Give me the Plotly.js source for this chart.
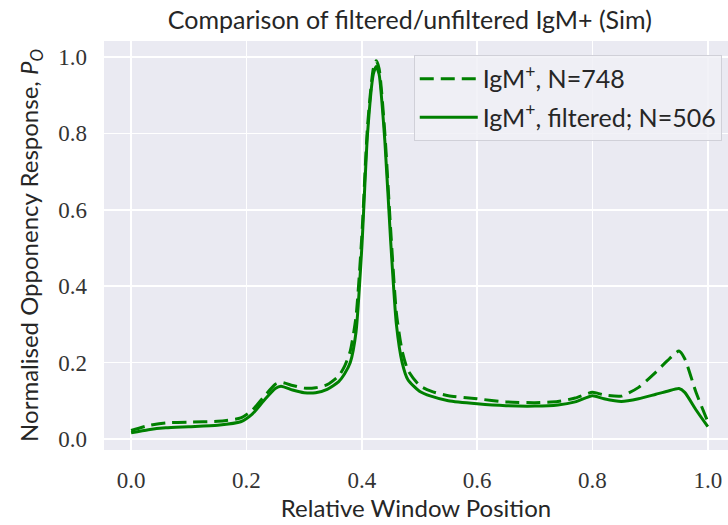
<!DOCTYPE html>
<html>
<head>
<meta charset="utf-8">
<script src="https://cdn.plot.ly/plotly-3.0.1.min.js"></script>
<style>html,body{margin:0;padding:0;background:#fff;}#chart{width:728px;height:525px;}</style>
</head>
<body>
<div id="chart"></div>
<script>
const xPos = [0, 0.03, 0.06, 0.1, 0.15, 0.19, 0.21, 0.23, 0.25, 0.26, 0.28, 0.30, 0.32, 0.34, 0.36, 0.37, 0.38, 0.39, 0.40, 0.41, 0.42, 0.425, 0.43, 0.44, 0.45, 0.46, 0.47, 0.48, 0.50, 0.52, 0.55, 0.60, 0.65, 0.70, 0.74, 0.77, 0.80, 0.82, 0.85, 0.88, 0.91, 0.93, 0.95, 0.96, 0.98, 1.0];
const unfiltered = [0.022, 0.035, 0.042, 0.044, 0.046, 0.055, 0.075, 0.11, 0.143, 0.148, 0.140, 0.133, 0.134, 0.142, 0.165, 0.19, 0.23, 0.32, 0.53, 0.82, 0.97, 0.99, 0.97, 0.80, 0.55, 0.33, 0.23, 0.18, 0.14, 0.125, 0.113, 0.105, 0.097, 0.095, 0.098, 0.107, 0.122, 0.115, 0.112, 0.135, 0.175, 0.205, 0.23, 0.21, 0.12, 0.045];
const filtered = [0.016, 0.024, 0.029, 0.032, 0.036, 0.045, 0.065, 0.10, 0.132, 0.138, 0.128, 0.121, 0.121, 0.130, 0.150, 0.170, 0.20, 0.28, 0.50, 0.80, 0.955, 0.975, 0.955, 0.78, 0.52, 0.30, 0.20, 0.155, 0.125, 0.112, 0.100, 0.092, 0.087, 0.086, 0.089, 0.097, 0.113, 0.105, 0.098, 0.105, 0.117, 0.125, 0.132, 0.122, 0.075, 0.032];
const seriesNames = ["IgM<sup>+</sup>, N=748", "IgM<sup>+</sup>, filtered; N=506"];
const tickVals = [0, 0.2, 0.4, 0.6, 0.8, 1.0];
const tickText = ["0.0", "0.2", "0.4", "0.6", "0.8", "1.0"];

const sans = "Lato, 'DejaVu Sans', sans-serif";
const serif = "'Liberation Serif', 'DejaVu Serif', serif";

const traces = [
  {x: xPos, y: unfiltered, type: 'scatter', mode: 'lines', name: seriesNames[0], legendgroup: 'a',
   line: {color: '#008000', width: 3, dash: '14px,7px', shape: 'spline', smoothing: 0.6}},
  {x: xPos, y: filtered, type: 'scatter', mode: 'lines', name: seriesNames[1], legendgroup: 'b',
   line: {color: '#008000', width: 3, shape: 'spline', smoothing: 0.6}}
];

const layout = {
  width: 728, height: 525,
  margin: {l: 104, r: 0, t: 41, b: 75, pad: 0},
  paper_bgcolor: '#ffffff',
  plot_bgcolor: '#EAEAF2',
  title: {text: 'Comparison of filtered/unfiltered IgM+ (Sim)', font: {family: sans, size: 25, color: '#262626'}, x: 0.563, xanchor: 'center', y: 0.962, yanchor: 'middle'},
  xaxis: {
    range: [-0.047, 1.035], tickvals: tickVals, ticktext: tickText,
    showgrid: true, gridcolor: '#ffffff', gridwidth: 1.6, zeroline: false, showline: false, ticks: '',
    tickfont: {family: serif, size: 23, color: '#333'}, ticklabelstandoff: 14,
    title: {text: 'Relative Window Position', font: {family: sans, size: 24, color: '#262626'}, standoff: 2}
  },
  yaxis: {
    range: [-0.029, 1.042], tickvals: tickVals, ticktext: tickText,
    showgrid: true, gridcolor: '#ffffff', gridwidth: 1.6, zeroline: false, showline: false, ticks: '',
    tickfont: {family: serif, size: 23, color: '#333'}, ticklabelstandoff: 16,
    title: {text: 'Normalised Opponency Response, <i>P</i><sub><i>O</i></sub>', font: {family: sans, size: 24, color: '#262626'}, standoff: 12}
  },
  showlegend: true,
  legend: {
    x: 0.990, y: 0.966, xanchor: 'right', yanchor: 'top',
    bgcolor: 'rgba(240,240,246,0.85)', bordercolor: '#d0d0d8', borderwidth: 1,
    font: {family: sans, size: 25, color: '#262626'},
    traceorder: 'grouped', tracegroupgap: 3, itemwidth: 58
  }
};

Plotly.newPlot('chart', traces, layout, {displayModeBar: false, staticPlot: true});
</script>
</body>
</html>
